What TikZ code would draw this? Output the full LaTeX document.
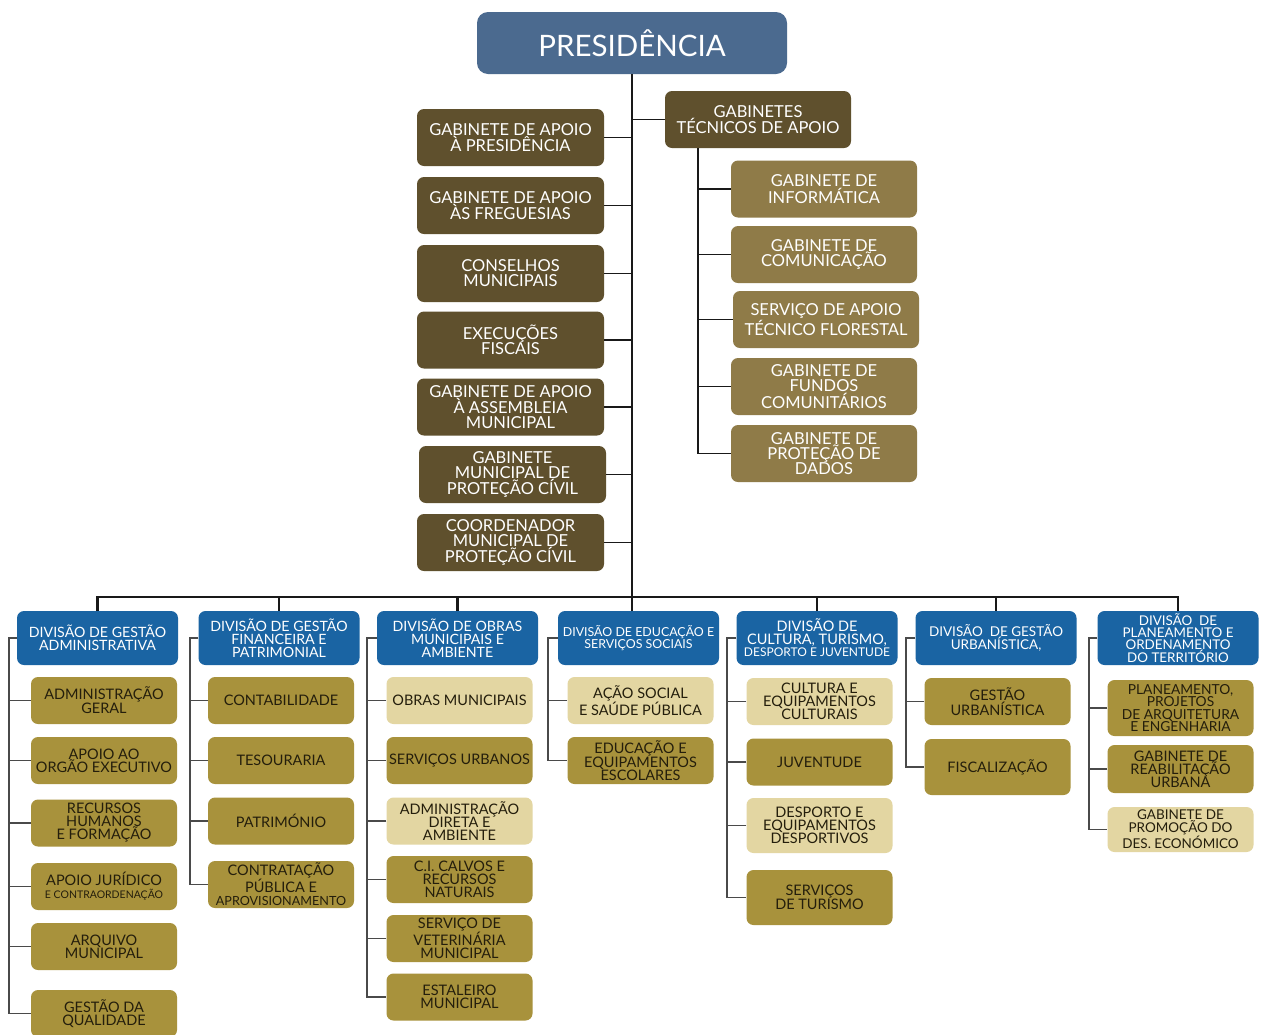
\documentclass[tikz,border=0pt]{standalone}
\usepackage{fontspec}
\setmainfont{Lato}
\definecolor{presblue}{HTML}{4B6A8F}
\definecolor{divblue}{HTML}{1A64A3}
\definecolor{darkbrown}{HTML}{5F502D}
\definecolor{tanc}{HTML}{8F7B48}
\definecolor{goldc}{HTML}{A8923C}
\definecolor{lightc}{HTML}{E3D6A2}
\definecolor{txtdark}{HTML}{241E0C}
\definecolor{twigc}{HTML}{4A4A4A}
\tikzset{
 box/.style={rounded corners=7pt, align=center, inner sep=0pt},
 presbox/.style={box, rounded corners=11pt, fill=presblue, text=white, minimum width=310, minimum height=62, font=\fontsize{29.5}{30}\selectfont},
 darkbox/.style={box, fill=darkbrown, text=white, minimum width=187, minimum height=57, font=\fontsize{16.5}{15}\selectfont},
 tanbox/.style={darkbox, fill=tanc},
 divbox/.style={box, fill=divblue, text=white, minimum width=161, minimum height=54, font=\fontsize{14.2}{13}\selectfont},
 goldbox/.style={box, fill=goldc, text=txtdark, minimum width=146, minimum height=47, font=\fontsize{14.5}{13}\selectfont},
 lightbox/.style={goldbox, fill=lightc},
 busline/.style={line width=2.2pt, draw=black!90},
 twig/.style={line width=1.3pt, draw=twigc},
}
\begin{document}
\begin{tikzpicture}[x=1pt,y=-1pt]
\useasboundingbox[fill=white] (0,0) rectangle (1266,1034);

% top
\node[presbox] (pres) at (632,43) {PRESIDÊNCIA};
\node[darkbox, minimum width=186] (gta) at (758,119.5) {GABINETES\\TÉCNICOS DE APOIO};

\node[darkbox] (l1) at (510.5,137.5) {GABINETE DE APOIO\\À PRESIDÊNCIA};
\node[darkbox] (l2) at (510.5,205.5) {GABINETE DE APOIO\\ÀS FREGUESIAS};
\node[darkbox] (l3) at (510.5,273.5) {CONSELHOS\\MUNICIPAIS};
\node[darkbox] (l4) at (510.5,340) {EXECUÇÕES\\FISCAIS};
\node[darkbox] (l5) at (510.5,407) {GABINETE DE APOIO\\À ASSEMBLEIA\\MUNICIPAL};
\node[darkbox] (l6) at (512.5,474.5) {GABINETE\\MUNICIPAL DE\\PROTEÇÃO CÍVIL};
\node[darkbox] (l7) at (510.5,542.5) {COORDENADOR\\MUNICIPAL DE\\PROTEÇÃO CÍVIL};

\node[tanbox, minimum width=186] (t1) at (824,189) {GABINETE DE\\INFORMÁTICA};
\node[tanbox, minimum width=186] (t2) at (824,254.5) {GABINETE DE\\COMUNICAÇÃO};
\node[tanbox, minimum width=186] (t3) at (826,319.5) {SERVIÇO DE APOIO\\TÉCNICO FLORESTAL};
\node[tanbox, minimum width=186] (t4) at (824,386.5) {GABINETE DE\\FUNDOS\\COMUNITÁRIOS};
\node[tanbox, minimum width=186] (t5) at (824,453.5) {GABINETE DE\\PROTEÇÃO DE\\DADOS};

% divisions
\node[divbox] (d1) at (97.5,638) {DIVISÃO DE GESTÃO\\ADMINISTRATIVA};
\node[divbox] (d2) at (279,638) {DIVISÃO DE GESTÃO\\FINANCEIRA E\\PATRIMONIAL};
\node[divbox] (d3) at (457.5,638) {DIVISÃO DE OBRAS\\MUNICIPAIS E\\AMBIENTE};
\node[divbox, font=\fontsize{12.4}{12}\selectfont] (d4) at (638.5,638) {DIVISÃO DE EDUCAÇÃO E\\SERVIÇOS SOCIAIS};
\node[divbox, font=\fontsize{14.5}{12.5}\selectfont] (d5) at (817,638) {DIVISÃO DE\\CULTURA, TURISMO,\\{\fontsize{12}{11}\selectfont DESPORTO E JUVENTUDE}};
\node[divbox, font=\fontsize{13.5}{13}\selectfont] (d6) at (996,638) {DIVISÃO\ \ DE GESTÃO\\URBANÍSTICA,};
\node[divbox, font=\fontsize{13.4}{12}\selectfont] (d7) at (1178,638) {DIVISÃO\ \ DE\\PLANEAMENTO E\\ORDENAMENTO\\DO TERRITÓRIO};

% column 1
\node[goldbox] (a1) at (104,700.5) {ADMINISTRAÇÃO\\GERAL};
\node[goldbox] (a2) at (104,760.5) {APOIO AO\\ORGÃO EXECUTIVO};
\node[goldbox] (a3) at (104,823) {RECURSOS\\HUMANOS\\E FORMAÇÃO};
\node[goldbox] (a4) at (104,886.5) {APOIO JURÍDICO\\{\fontsize{10.5}{11}\selectfont E CONTRAORDENAÇÃO}};
\node[goldbox] (a5) at (104,946.5) {ARQUIVO\\MUNICIPAL};
\node[goldbox] (a6) at (104,1013.5) {GESTÃO DA\\QUALIDADE};
% column 2
\node[goldbox] (b1) at (281,700.5) {CONTABILIDADE};
\node[goldbox] (b2) at (281,760.5) {TESOURARIA};
\node[goldbox] (b3) at (281,821) {PATRIMÓNIO};
\node[goldbox] (b4) at (281,884.5) {CONTRATAÇÃO\\PÚBLICA E\\{\fontsize{12.6}{12}\selectfont APROVISIONAMENTO}};
% column 3
\node[lightbox] (c1) at (459.5,700.5) {OBRAS MUNICIPAIS};
\node[goldbox] (c2) at (459.5,760.5) {SERVIÇOS URBANOS};
\node[lightbox] (c3) at (459.5,821) {ADMINISTRAÇÃO\\DIRETA E\\AMBIENTE};
\node[goldbox] (c4) at (459.5,879.5) {C.I. CALVOS E\\RECURSOS\\NATURAIS};
\node[goldbox] (c5) at (459.5,938.5) {SERVIÇO DE\\VETERINÁRIA\\MUNICIPAL};
\node[goldbox] (c6) at (459.5,997) {ESTALEIRO\\MUNICIPAL};
% column 4
\node[lightbox] (e1) at (640.5,700.5) {AÇÃO SOCIAL\\E SAÚDE PÚBLICA};
\node[goldbox] (e2) at (640.5,760.5) {EDUCAÇÃO E\\EQUIPAMENTOS\\ESCOLARES};
% column 5
\node[lightbox] (f1) at (819.5,701.5) {CULTURA E\\EQUIPAMENTOS\\CULTURAIS};
\node[goldbox] (f2) at (819.5,762) {JUVENTUDE};
\node[lightbox, minimum height=55] (f3) at (819.5,825.5) {DESPORTO E\\EQUIPAMENTOS\\DESPORTIVOS};
\node[goldbox, minimum height=55] (f4) at (819.5,897.5) {SERVIÇOS\\DE TURISMO};
% column 6
\node[goldbox] (g1) at (997.5,701.5) {GESTÃO\\URBANÍSTICA};
\node[goldbox, minimum height=56] (g2) at (997.5,767) {FISCALIZAÇÃO};
% column 7
\node[goldbox, minimum height=56, font=\fontsize{13.8}{12.5}\selectfont] (h1) at (1180.5,708) {PLANEAMENTO,\\PROJETOS\\DE ARQUITETURA\\E ENGENHARIA};
\node[goldbox, minimum height=48] (h2) at (1180.5,769) {GABINETE DE\\REABILITAÇÃO\\URBANA};
\node[lightbox, minimum height=45, font=\fontsize{13.5}{12}\selectfont] (h3) at (1180.5,829.5) {GABINETE DE\\PROMOÇÃO DO\\DES. ECONÓMICO};

% main connectors
\coordinate (busy) at (0,597);
\coordinate (gx) at (698,0);
\draw[busline] (pres.south) -- (pres.south |- busy);
\draw[busline] (d1.north) |- (busy -| d7.north) -- (d7.north);
\foreach \d in {d2,d3,d5,d6} \draw[busline] (\d.north) -- (\d.north |- busy);
\draw[busline] (pres.south |- d4.north) -- (pres.south |- busy);
\foreach \l in {l1,l2,l3,l4,l5,l6,l7} \draw[busline, line width=1.8pt] (\l.east) -- (\l.east -| pres.south);
\draw[busline, line width=1.8pt] (gta.west) -- (gta.west -| pres.south);
\draw[busline, line width=1.8pt] (gta.south -| gx) -- (t5.west -| gx) -- (t5.west);
\foreach \t in {t1,t2,t3,t4} \draw[busline, line width=1.8pt] (\t.west) -- (\t.west -| gx);

% column connectors
\coordinate (s1) at (9,0);
\coordinate (s2) at (190,0);
\coordinate (s3) at (367,0);
\coordinate (s4) at (548,0);
\coordinate (s5) at (727,0);
\coordinate (s6) at (906,0);
\coordinate (s7) at (1089,0);
\draw[twig] (d1.west) -- (d1.west -| s1) -- (a6.west -| s1) -- (a6.west);
\foreach \c in {a1,a2,a3,a4,a5} \draw[twig] (\c.west) -- (\c.west -| s1);
\draw[twig] (d2.west) -- (d2.west -| s2) -- (b4.west -| s2) -- (b4.west);
\foreach \c in {b1,b2,b3} \draw[twig] (\c.west) -- (\c.west -| s2);
\draw[twig] (d3.west) -- (d3.west -| s3) -- (c6.west -| s3) -- (c6.west);
\foreach \c in {c1,c2,c3,c4,c5} \draw[twig] (\c.west) -- (\c.west -| s3);
\draw[twig] (d4.west) -- (d4.west -| s4) -- (e2.west -| s4) -- (e2.west);
\draw[twig] (e1.west) -- (e1.west -| s4);
\draw[twig] (d5.west) -- (d5.west -| s5) -- (f4.west -| s5) -- (f4.west);
\foreach \c in {f1,f2,f3} \draw[twig] (\c.west) -- (\c.west -| s5);
\draw[twig] (d6.west) -- (d6.west -| s6) -- (g2.west -| s6) -- (g2.west);
\draw[twig] (g1.west) -- (g1.west -| s6);
\draw[twig] (d7.west) -- (d7.west -| s7) -- (h3.west -| s7) -- (h3.west);
\foreach \c in {h1,h2} \draw[twig] (\c.west) -- (\c.west -| s7);
\end{tikzpicture}
\end{document}
